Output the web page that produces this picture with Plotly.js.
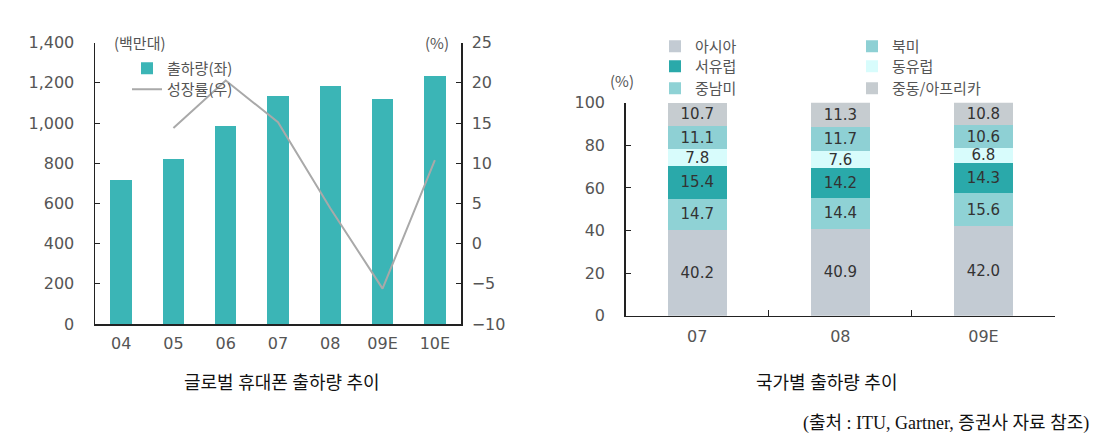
<!DOCTYPE html>
<html>
<head>
<meta charset="utf-8">
<script src="https://cdn.plot.ly/plotly-3.0.1.min.js"></script>
<style>html,body{margin:0;padding:0;background:#fff;}#chart{width:1102px;height:439px;}</style>
</head>
<body>
<div id="chart"></div>
<script>
// Left chart data
const years = ['04', '05', '06', '07', '08', '09E', '10E'];
const shipments = [716, 819, 985, 1134, 1184, 1118, 1234];
const growth = [null, 14.4, 20.3, 15.1, 4.4, -5.6, 10.4];

// Right chart data
const periods = ['07', '08', '09E'];
const asia = [40.2, 40.9, 42.0];
const latam = [14.7, 14.4, 15.6];
const westEurope = [15.4, 14.2, 14.3];
const eastEurope = [7.8, 7.6, 6.8];
const northAmerica = [11.1, 11.7, 10.6];
const meaf = [10.7, 11.3, 10.8];

const W = 1102, H = 439;
const px = v => v / W;
const py = v => 1 - v / H;

const tickFont = {family: 'DejaVu Sans, Noto Sans CJK KR', size: 16, color: '#555'};
const korFont = {family: 'Noto Sans CJK KR, DejaVu Sans', size: 15, color: '#555'};
const valFont = {family: 'DejaVu Sans', size: 15, color: '#333'};
const legFont = {family: 'Noto Sans CJK KR', size: 15, color: '#555'};

const stackColors = {
  asia: '#c3cbd3', latam: '#8fd2d5', west: '#2aa9aa', east: '#d8fcfc', na: '#8ed0d4', meaf: '#c6ccd0'
};

function seg(name, vals, color, legend) {
  return {
    type: 'bar', name: name, x: periods, y: vals, xaxis: 'x2', yaxis: 'y3',
    marker: {color: color, line: {width: 0}},
    texttemplate: '%{y:.1f}', textposition: 'inside', insidetextanchor: 'middle',
    textangle: 0, textfont: valFont, constraintext: 'none',
    legend: legend, showlegend: true, hoverinfo: 'skip'
  };
}

const traces = [
  {type: 'bar', name: '출하량(좌)', x: years, y: shipments, xaxis: 'x', yaxis: 'y',
   marker: {color: '#3bb5b6'}, legend: 'legend', showlegend: true, hoverinfo: 'skip'},
  {type: 'scatter', mode: 'lines', name: '성장률(우)', x: years, y: growth, xaxis: 'x', yaxis: 'y2',
   line: {color: '#a9a9a9', width: 2}, legend: 'legend8', showlegend: true, connectgaps: false, hoverinfo: 'skip'},
  seg('아시아', asia, stackColors.asia, 'legend2'),
  seg('중남미', latam, stackColors.latam, 'legend4'),
  seg('서유럽', westEurope, stackColors.west, 'legend3'),
  seg('동유럽', eastEurope, stackColors.east, 'legend6'),
  seg('북미', northAmerica, stackColors.na, 'legend5'),
  seg('중동/아프리카', meaf, stackColors.meaf, 'legend7')
];

const axisLine = {showline: true, linecolor: '#222', linewidth: 1.5, zeroline: false, showgrid: false};

function leg(x, yTop) {
  return {x: px(x), y: py(yTop), xanchor: 'left', yanchor: 'top', bgcolor: 'rgba(0,0,0,0)',
    font: legFont, tracegroupgap: 0, traceorder: 'normal', borderwidth: 0};
}

const layout = {
  width: W, height: H,
  margin: {l: 0, r: 0, t: 0, b: 0},
  paper_bgcolor: '#fff', plot_bgcolor: 'rgba(0,0,0,0)',
  barmode: 'stack', bargap: 0.59,
  showlegend: true,
  font: korFont,
  uniformtext: {mode: 'show', minsize: 15},
  xaxis: Object.assign({}, axisLine, {domain: [px(95), px(461)], anchor: 'y', type: 'category',
    ticks: '', tickfont: tickFont, ticklabelstandoff: 4}),
  yaxis: Object.assign({}, axisLine, {domain: [py(324), py(42.7)], anchor: 'x', range: [0, 1400], dtick: 200,
    tickformat: ',', ticks: 'inside', ticklen: 5, tickcolor: '#222', tickfont: tickFont, ticklabelstandoff: 16}),
  yaxis2: Object.assign({}, axisLine, {overlaying: 'y', side: 'right', anchor: 'x', range: [-10, 25], dtick: 5,
    ticks: 'inside', ticklen: 5, tickcolor: '#222', tickfont: tickFont, ticklabelstandoff: 6}),
  xaxis2: Object.assign({}, axisLine, {domain: [px(625.7), px(1055)], anchor: 'y3', type: 'category',
    ticks: 'inside', tickson: 'boundaries', ticklen: 6, tickcolor: '#222', tickfont: tickFont, ticklabelstandoff: 6}),
  yaxis3: Object.assign({}, axisLine, {domain: [py(315.7), py(102.7)], anchor: 'x2', range: [0, 100], dtick: 20,
    ticks: 'inside', ticklen: 5, tickcolor: '#222', tickfont: tickFont, ticklabelstandoff: 16}),
  legend: leg(127, 52),
  legend8: leg(127, 73),
  legend2: leg(655, 30),
  legend3: leg(655, 50),
  legend4: leg(655, 72),
  legend5: leg(852, 30),
  legend6: leg(852, 50),
  legend7: leg(852, 72),
  annotations: [
    {text: '(백만대)', xref: 'paper', yref: 'paper', x: px(112), y: py(42), xanchor: 'left', yanchor: 'middle',
     showarrow: false, font: {family: 'Noto Sans CJK KR', size: 15, color: '#555'}},
    {text: '(%)', xref: 'paper', yref: 'paper', x: px(451), y: py(42), xanchor: 'right', yanchor: 'middle',
     showarrow: false, font: {family: 'Noto Sans CJK KR', size: 15, color: '#555'}},
    {text: '(%)', xref: 'paper', yref: 'paper', x: px(622), y: py(80), xanchor: 'center', yanchor: 'middle',
     showarrow: false, font: {family: 'Noto Sans CJK KR', size: 15, color: '#555'}},
    {text: '글로벌 휴대폰 출하량 추이', xref: 'paper', yref: 'paper', x: px(282), y: py(383), xanchor: 'center', yanchor: 'middle',
     showarrow: false, font: {family: 'Liberation Serif, Noto Sans CJK KR', size: 18, color: '#111'}},
    {text: '국가별 출하량 추이', xref: 'paper', yref: 'paper', x: px(826), y: py(383), xanchor: 'center', yanchor: 'middle',
     showarrow: false, font: {family: 'Liberation Serif, Noto Sans CJK KR', size: 18, color: '#111'}},
    {text: '(출처 : ITU, Gartner, 증권사 자료 참조)', xref: 'paper', yref: 'paper', x: px(1091), y: py(423), xanchor: 'right', yanchor: 'middle',
     showarrow: false, font: {family: 'Liberation Serif, Noto Sans CJK KR', size: 18, color: '#111'}}
  ]
};

Plotly.newPlot('chart', traces, layout, {staticPlot: true, displayModeBar: false});
</script>
</body>
</html>
